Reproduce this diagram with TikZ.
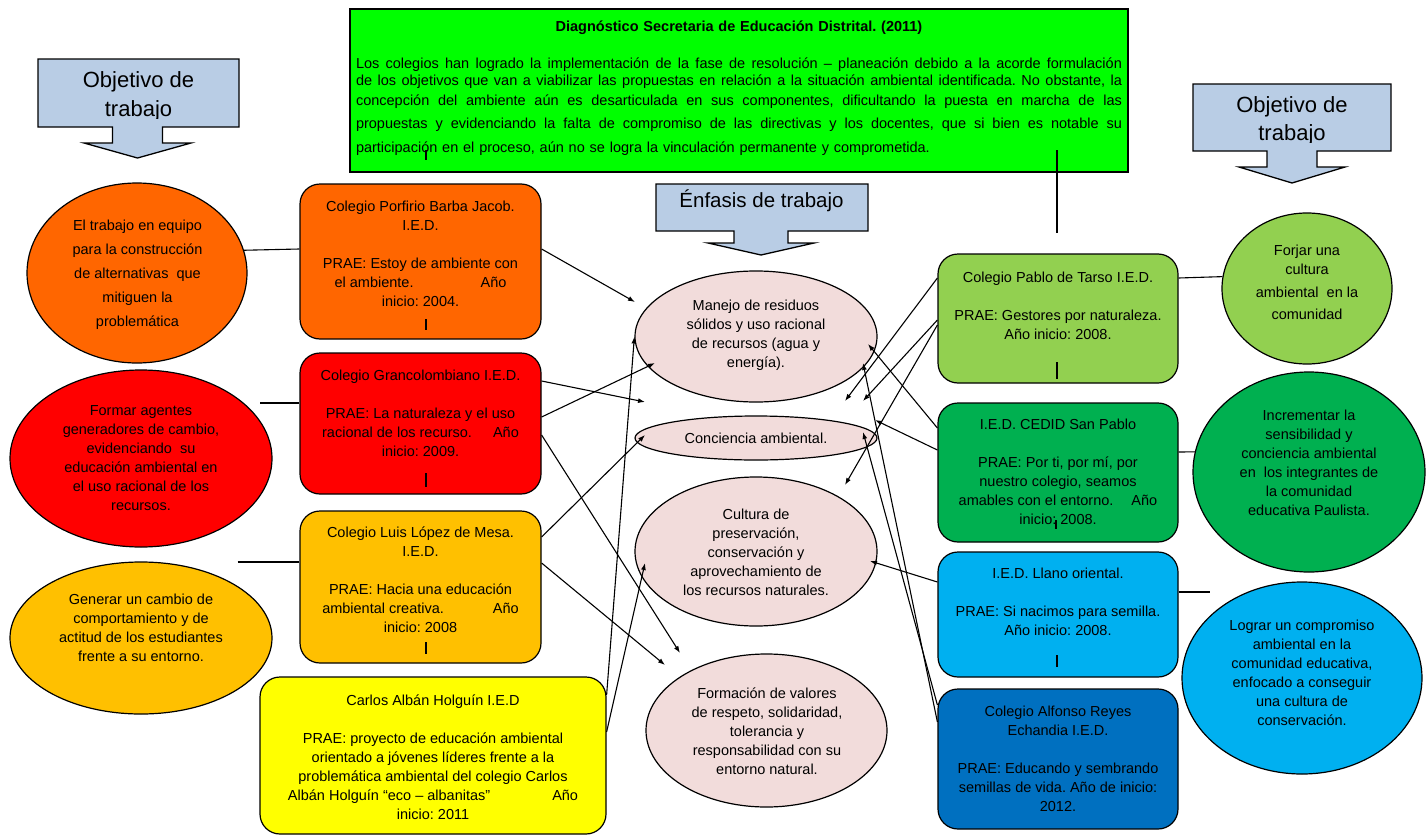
\documentclass[tikz,border=0pt]{standalone}
\usepackage{fontspec}
\setmainfont{Liberation Sans}
\usetikzlibrary{shapes.geometric, arrows.meta}

\definecolor{verdelima}{HTML}{00FF00}
\definecolor{azulgris}{HTML}{B9CDE5}
\definecolor{naranja}{HTML}{FF6600}
\definecolor{rojo}{HTML}{FF0000}
\definecolor{ambar}{HTML}{FFC000}
\definecolor{amarillo}{HTML}{FFFF00}
\definecolor{rosado}{HTML}{F2DCDB}
\definecolor{verdeclaro}{HTML}{92D050}
\definecolor{verde}{HTML}{00B050}
\definecolor{celeste}{HTML}{00B0F0}
\definecolor{azul}{HTML}{0070C0}

% renglon justificado del diagnostico
\newcommand{\renglon}[1]{\leavevmode\hbox to 766pt{\spaceskip = 0.27em plus 1em minus 0.05em\relax #1}}

\begin{document}
\frenchspacing
\begin{tikzpicture}[x = 1pt, y = -1pt,
  caja/.style = {draw, line width = 1.2pt, rounded corners = 20pt, inner sep = 0pt, minimum width = 241pt},
  ovalo/.style = {draw, ellipse, line width = 1.2pt, inner sep = 0pt},
  texto/.style = {align = center, inner sep = 0pt, anchor = north, font = \fontsize{14.5}{19}\selectfont},
  llamada/.style = {draw, line width = 1.3pt, fill = azulgris},
  linea/.style = {line width = 1.1pt},
  flecha/.style = {line width = 1.1pt, -{Latex[length = 7pt, width = 5pt]}},
  marca/.style = {line width = 1.6pt}]
\useasboundingbox (0, 0) rectangle (1427, 835);

% diagnostico
\node [draw, line width = 1.8pt, fill = verdelima, minimum width = 778pt, minimum height = 163pt, inner sep = 0pt] (diag) at (739, 90.5) {};
\node [texto, text width = 766pt, align = left, font = \fontsize{14.5}{17}\selectfont] (diag-txt) at (739, 20.5) {\leavevmode\hbox to 766pt{\hss\bfseries Diagnóstico Secretaria de Educación Distrital. (2011)\hss}\\[20pt]
\renglon{Los colegios han logrado la implementación de la fase de resolución – planeación debido a la acorde formulación}\\
\renglon{de los objetivos que van a viabilizar las propuestas en relación a la situación ambiental identificada. No obstante, la}\\[3pt]
\renglon{concepción del ambiente aún es desarticulada en sus componentes, dificultando la puesta en marcha de las}\\[6pt]
\renglon{propuestas y evidenciando la falta de compromiso de las directivas y los docentes, que si bien es notable su}\\[7pt]
participación en el proceso, aún no se logra la vinculación permanente y comprometida.};

% llamadas
\draw [llamada] (38, 59) -- (239, 59) -- (239, 127) -- (162.5, 127) -- (162.5, 143) -- (191, 143) -- (137.5, 158) -- (84, 143) -- (112.5, 143) -- (112.5, 127) -- (38, 127) -- cycle;
\draw [llamada] (1193, 84) -- (1391, 84) -- (1391, 151) -- (1317, 151) -- (1317, 167) -- (1345, 167) -- (1292, 183) -- (1239, 167) -- (1267, 167) -- (1267, 151) -- (1193, 151) -- cycle;
\draw [llamada] (656, 184) -- (868, 184) -- (868, 231) -- (788, 231) -- (788, 243) -- (814, 243) -- (761, 255) -- (708, 243) -- (734, 243) -- (734, 231) -- (656, 231) -- cycle;
\begin{scope}
\clip (38, 59) rectangle (239, 118.5);
\node [texto, font = \fontsize{22}{29}\selectfont] (obj-izq) at (138.5, 71.5) {Objetivo de\\ trabajo};
\end{scope}
\begin{scope}
\clip (1193, 84) rectangle (1391, 142);
\node [texto, font = \fontsize{22}{28}\selectfont] (obj-der) at (1292, 96.5) {Objetivo de\\ trabajo};
\end{scope}
\node [inner sep = 0pt, font = \fontsize{20.5}{24}\selectfont] (enfasis) at (761.5, 201) {Énfasis de trabajo};

% colegios izquierda
\node [caja, fill = naranja, minimum height = 155pt] (porf) at (420.5, 261.5) {};
\node [caja, fill = rojo, minimum height = 141pt] (gran) at (420.5, 423.5) {};
\node [caja, fill = ambar, minimum height = 152pt] (luis) at (420.5, 587) {};
\node [caja, fill = amarillo, minimum width = 346pt, minimum height = 157pt] (carl) at (433, 755.5) {};
\node [texto] (porf-txt) at (420.5, 200.5) {Colegio Porfirio Barba Jacob.\\ I.E.D.\\[19pt] PRAE: Estoy de ambiente con\\ el ambiente.\hspace{67pt}Año\\ inicio: 2004.};
\node [texto] (gran-txt) at (420.5, 369.5) {Colegio Grancolombiano I.E.D.\\[19pt] PRAE: La naturaleza y el uso\\ racional de los recurso.\hspace{21pt}Año\\ inicio: 2009.};
\node [texto] (luis-txt) at (420.5, 526.5) {Colegio Luis López de Mesa.\\ I.E.D.\\[19pt] PRAE: Hacia una educación\\ ambiental creativa.\hspace{49pt}Año\\ inicio: 2008};
\node [texto] (carl-txt) at (433, 694.5) {Carlos Albán Holguín I.E.D\\[19pt] PRAE: proyecto de educación ambiental\\ orientado a jóvenes líderes frente a la\\ problemática ambiental del colegio Carlos\\ Albán Holguín “eco – albanitas”\hspace{62pt}Año\\ inicio: 2011};

% objetivos izquierda
\node [ovalo, fill = naranja, minimum width = 220pt, minimum height = 180pt] (ob1) at (137, 273) {};
\node [ovalo, fill = rojo, minimum width = 262pt, minimum height = 177pt] (ob2) at (141, 458.5) {};
\node [ovalo, fill = ambar, minimum width = 262pt, minimum height = 152pt] (ob3) at (141, 638) {};
\node [texto, font = \fontsize{14.5}{24}\selectfont] (ob1-txt) at (137.5, 219.5) {El trabajo en equipo\\ para la construcción\\ de alternativas~~que\\ mitiguen la\\ problemática};
\node [texto] (ob2-txt) at (141, 405.5) {Formar agentes\\ generadores de cambio,\\ evidenciando~~su\\ educación ambiental en\\ el uso racional de los\\ recursos.};
\node [texto] (ob3-txt) at (141, 593.5) {Generar un cambio de\\ comportamiento y de\\ actitud de los estudiantes\\ frente a su entorno.};

% enfasis
\node [ovalo, fill = rosado, minimum width = 242pt, minimum height = 131pt] (em1) at (756, 336.5) {};
\node [ovalo, fill = rosado, minimum width = 242pt, minimum height = 44pt] (em2) at (756, 438) {};
\node [ovalo, fill = rosado, minimum width = 242pt, minimum height = 149pt] (em3) at (756, 551.5) {};
\node [ovalo, fill = rosado, minimum width = 241pt, minimum height = 153pt] (em4) at (766.5, 730.5) {};
\node [texto] (em1-txt) at (756, 299.5) {Manejo de residuos\\ sólidos y uso racional\\ de recursos (agua y\\ energía).};
\node [texto] (em2-txt) at (756, 432.5) {Conciencia ambiental.};
\node [texto] (em3-txt) at (756, 508.5) {Cultura de\\ preservación,\\ conservación y\\ aprovechamiento de\\ los recursos naturales.};
\node [texto] (em4-txt) at (767, 687.5) {Formación de valores\\ de respeto, solidaridad,\\ tolerancia y\\ responsabilidad con su\\ entorno natural.};

% colegios derecha
\node [caja, fill = verdeclaro, minimum width = 240pt, minimum height = 129pt] (pabl) at (1058, 318.5) {};
\node [caja, fill = verde, minimum width = 240pt, minimum height = 139pt] (cedi) at (1058, 472.5) {};
\node [caja, fill = celeste, minimum width = 240pt, minimum height = 125pt] (llan) at (1058, 614.5) {};
\node [caja, fill = azul, minimum width = 240pt, minimum height = 140pt] (alfo) at (1058, 759) {};
\node [texto] (pabl-txt) at (1058, 271.5) {Colegio Pablo de Tarso I.E.D.\\[19pt] PRAE: Gestores por naturaleza.\\ Año inicio: 2008.};
\node [texto] (cedi-txt) at (1058, 418.5) {I.E.D. CEDID San Pablo\\[19pt] PRAE: Por ti, por mí, por\\ nuestro colegio, seamos\\ amables con el entorno.\hspace{18pt}Año\\ inicio: 2008.};
\node [texto] (llan-txt) at (1058, 567.5) {I.E.D. Llano oriental.\\[19pt] PRAE: Si nacimos para semilla.\\ Año inicio: 2008.};
\node [texto] (alfo-txt) at (1058, 705.5) {Colegio Alfonso Reyes\\ Echandia I.E.D.\\[19pt] PRAE: Educando y sembrando\\ semillas de vida. Año de inicio:\\ 2012.};

% objetivos derecha
\node [ovalo, fill = verdeclaro, minimum width = 170pt, minimum height = 151pt] (ob4) at (1307, 288.5) {};
\node [ovalo, fill = verde, minimum width = 232pt, minimum height = 200pt] (ob5) at (1309, 472) {};
\node [ovalo, fill = celeste, minimum width = 240pt, minimum height = 192pt] (ob6) at (1302, 678) {};
\node [texto] (ob4-txt) at (1307, 244.5) {Forjar una\\ cultura\\[4pt] ambiental~~en la\\[3pt] comunidad};
\node [texto] (ob5-txt) at (1309, 409.5) {Incrementar la\\ sensibilidad y\\ conciencia ambiental\\ en~~los integrantes de\\ la comunidad\\ educativa Paulista.};
\node [texto] (ob6-txt) at (1302, 619.5) {Lograr un compromiso\\ ambiental en la\\ comunidad educativa,\\ enfocado a conseguir\\ una cultura de\\ conservación.};

% puntas sueltas
\coordinate (f1) at (635, 302);
\coordinate (f2) at (645, 402);
\coordinate (f3) at (655, 363);
\coordinate (f4) at (680, 653);
\coordinate (f5) at (645, 435);
\coordinate (f6) at (665, 665);
\coordinate (f8) at (645, 563);
\coordinate (g1) at (845, 401);
\coordinate (g2) at (863, 401);
\coordinate (g3) at (845, 485);
\coordinate (g4) at (868, 344);
\coordinate (g5) at (875, 420);
\coordinate (g6) at (870, 561);
\coordinate (g7) at (863, 363);
\coordinate (g8) at (863, 432);
\coordinate (ob2-fin) at (260, 403);
\coordinate (ob3-fin) at (237.5, 562);
\coordinate (ob6-fin) at (1210, 592);
\coordinate (diag-a) at (1057, 150);
\coordinate (diag-b) at (1057, 233);

% lineas
\draw [linea] (ob1.12.8) -- ([yshift = 12.5pt]porf.west);
\draw [linea] (ob2-fin) -- ([yshift = 20.5pt]gran.west);
\draw [linea] (ob3-fin) -- ([yshift = 25pt]luis.west);
\draw [linea] ([yshift = 40.5pt]pabl.east) -- (ob4.172.9);
\draw [linea] ([yshift = 20.5pt]cedi.east) -- (ob5.170);
\draw [linea] ([yshift = 22.5pt]llan.east) -- (ob6-fin);
\draw [linea] (diag-a) -- (diag-b);

% flechas izquierda
\draw [flecha] ([yshift = 12.5pt]porf.east) -- (f1);
\draw [flecha] ([yshift = 42.5pt]gran.east) -- (f2);
\draw [flecha] ([yshift = 6.5pt]gran.east) -- (f3);
\draw [flecha] ([yshift = -11.5pt]gran.east) -- (f4);
\draw [flecha] ([yshift = 50pt]luis.east) -- (f5);
\draw [flecha] ([yshift = 24pt]luis.east) -- (f6);
\draw [flecha] ([yshift = 60.5pt]carl.east) -- (em1.west);
\draw [flecha] ([yshift = 23.5pt]carl.east) -- (f8);

% flechas derecha
\draw [flecha] ([yshift = 40.5pt]pabl.west) -- (g1);
\draw [flecha] ([yshift = -1.5pt]pabl.west) -- (g2);
\draw [flecha] ([yshift = -6.5pt]pabl.west) -- (g3);
\draw [flecha] ([yshift = 44.5pt]cedi.west) -- (g4);
\draw [flecha] ([yshift = 22.5pt]cedi.west) -- (g5);
\draw [flecha] ([yshift = 32.5pt]llan.west) -- (g6);
\draw [flecha] ([yshift = 37pt]alfo.west) -- (g7);
\draw [flecha] ([yshift = 54pt]alfo.west) -- (g8);

% marcas
\draw [marca] (426, 150) -- (426, 160);
\draw [marca] (426, 319) -- (426, 330);
\draw [marca] (426, 473) -- (426, 487);
\draw [marca] (426, 642) -- (426, 654);
\draw [marca] (1057, 362) -- (1057, 379);
\draw [marca] (1056, 520) -- (1056, 529);
\draw [marca] (1057, 655) -- (1057, 667);
\end{tikzpicture}
\end{document}
